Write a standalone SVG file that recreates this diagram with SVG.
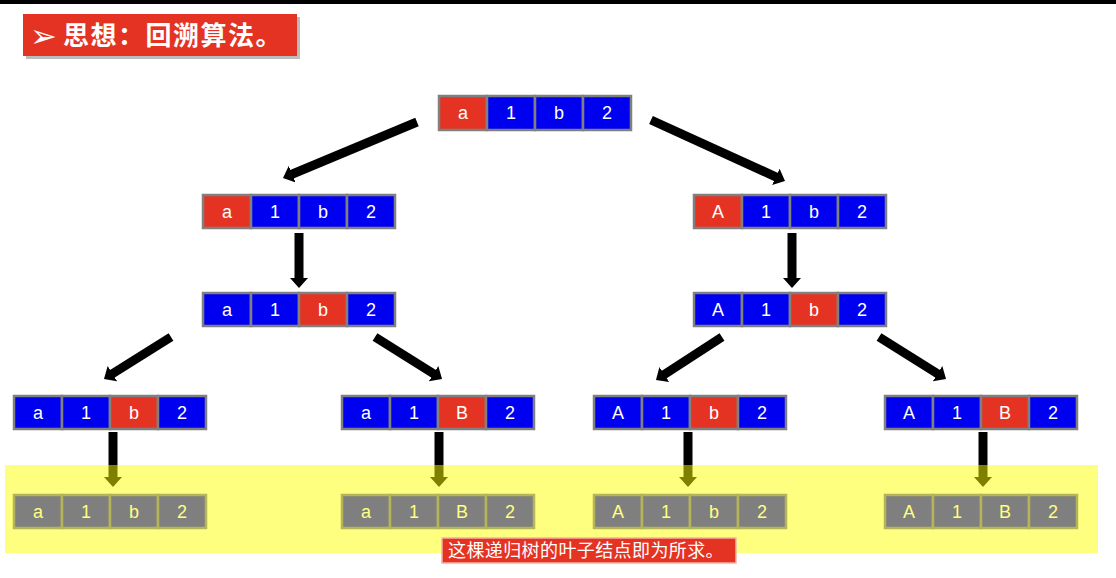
<svg xmlns="http://www.w3.org/2000/svg" width="1116" height="578" viewBox="0 0 1116 578">
<style>
.r{fill:#e53323;stroke:#808080;stroke-width:2.5}
.b{fill:#0000f0;stroke:#808080;stroke-width:2.5}
.g{fill:#7f7f7f;stroke:#b4b45a;stroke-width:2.5}
.t{font-family:"Liberation Sans",Arial,sans-serif;font-size:18px;fill:#ffffff;text-anchor:middle}
.lt{font-family:"Liberation Sans",Arial,sans-serif;font-size:18px;fill:#ffff80;text-anchor:middle}
.ar{stroke:#000;stroke-width:9;fill:none;marker-end:url(#ah)}
</style>
<defs>
<marker id="ah" viewBox="0 0 10 18" refX="1" refY="9" markerWidth="10" markerHeight="18" markerUnits="userSpaceOnUse" orient="auto">
<path d="M0,0 L10,9 L0,18 z" fill="#000"/>
</marker>
</defs>
<rect x="0" y="0" width="1116" height="4" fill="#000"/>
<g id="title">
<rect x="26" y="17" width="274" height="42" fill="#a0a0a0" opacity="0.7"/>
<rect x="23" y="14" width="274" height="42" fill="#e53323"/>
<text x="30" y="47" font-family="'DejaVu Sans',sans-serif" font-size="32" fill="#fff">➢</text>
<text x="63" y="45" font-family="'Noto Sans CJK SC',sans-serif" font-size="26" font-weight="bold" letter-spacing="1.5" fill="#fff">思想：回溯算法。</text>
</g>
<g id="connectors">
<line class="ar" x1="417" y1="122" x2="291.3" y2="174.5"/>
<line class="ar" x1="651" y1="120" x2="776.8" y2="177.3"/>
<line class="ar" x1="299" y1="233" x2="299" y2="279"/>
<line class="ar" x1="792" y1="233" x2="792" y2="279"/>
<line class="ar" x1="171" y1="337" x2="111.6" y2="374.2"/>
<line class="ar" x1="375" y1="337" x2="434.4" y2="374.2"/>
<line class="ar" x1="722" y1="337" x2="663.5" y2="375.1"/>
<line class="ar" x1="879" y1="337" x2="938.4" y2="374.2"/>
<line class="ar" x1="113" y1="432" x2="113" y2="478"/>
<line class="ar" x1="439" y1="432" x2="439" y2="478"/>
<line class="ar" x1="688" y1="432" x2="688" y2="478"/>
<line class="ar" x1="983" y1="432" x2="983" y2="478"/>
</g>
<rect id="band" x="5" y="465" width="1093" height="88" fill="#ffff00" opacity="0.5"/>
<g id="n0">
<rect class="r" x="439" y="96" width="48" height="34"/><rect class="b" x="487" y="96" width="48" height="34"/><rect class="b" x="535" y="96" width="48" height="34"/><rect class="b" x="583" y="96" width="48" height="34"/>
<text class="t" x="463" y="119">a</text><text class="t" x="511" y="119">1</text><text class="t" x="559" y="119">b</text><text class="t" x="607" y="119">2</text>
</g>
<g id="n1">
<rect class="r" x="203" y="195" width="48" height="33"/><rect class="b" x="251" y="195" width="48" height="33"/><rect class="b" x="299" y="195" width="48" height="33"/><rect class="b" x="347" y="195" width="48" height="33"/>
<text class="t" x="227" y="218">a</text><text class="t" x="275" y="218">1</text><text class="t" x="323" y="218">b</text><text class="t" x="371" y="218">2</text>
</g>
<g id="n2">
<rect class="r" x="694" y="195" width="48" height="33"/><rect class="b" x="742" y="195" width="48" height="33"/><rect class="b" x="790" y="195" width="48" height="33"/><rect class="b" x="838" y="195" width="48" height="33"/>
<text class="t" x="718" y="218">A</text><text class="t" x="766" y="218">1</text><text class="t" x="814" y="218">b</text><text class="t" x="862" y="218">2</text>
</g>
<g id="n3">
<rect class="b" x="203" y="293" width="48" height="33"/><rect class="b" x="251" y="293" width="48" height="33"/><rect class="r" x="299" y="293" width="48" height="33"/><rect class="b" x="347" y="293" width="48" height="33"/>
<text class="t" x="227" y="316">a</text><text class="t" x="275" y="316">1</text><text class="t" x="323" y="316">b</text><text class="t" x="371" y="316">2</text>
</g>
<g id="n4">
<rect class="b" x="694" y="293" width="48" height="33"/><rect class="b" x="742" y="293" width="48" height="33"/><rect class="r" x="790" y="293" width="48" height="33"/><rect class="b" x="838" y="293" width="48" height="33"/>
<text class="t" x="718" y="316">A</text><text class="t" x="766" y="316">1</text><text class="t" x="814" y="316">b</text><text class="t" x="862" y="316">2</text>
</g>
<g id="n5">
<rect class="b" x="14" y="396" width="48" height="33"/><rect class="b" x="62" y="396" width="48" height="33"/><rect class="r" x="110" y="396" width="48" height="33"/><rect class="b" x="158" y="396" width="48" height="33"/>
<text class="t" x="38" y="419">a</text><text class="t" x="86" y="419">1</text><text class="t" x="134" y="419">b</text><text class="t" x="182" y="419">2</text>
</g>
<g id="n6">
<rect class="b" x="342" y="396" width="48" height="33"/><rect class="b" x="390" y="396" width="48" height="33"/><rect class="r" x="438" y="396" width="48" height="33"/><rect class="b" x="486" y="396" width="48" height="33"/>
<text class="t" x="366" y="419">a</text><text class="t" x="414" y="419">1</text><text class="t" x="462" y="419">B</text><text class="t" x="510" y="419">2</text>
</g>
<g id="n7">
<rect class="b" x="594" y="396" width="48" height="33"/><rect class="b" x="642" y="396" width="48" height="33"/><rect class="r" x="690" y="396" width="48" height="33"/><rect class="b" x="738" y="396" width="48" height="33"/>
<text class="t" x="618" y="419">A</text><text class="t" x="666" y="419">1</text><text class="t" x="714" y="419">b</text><text class="t" x="762" y="419">2</text>
</g>
<g id="n8">
<rect class="b" x="885" y="396" width="48" height="33"/><rect class="b" x="933" y="396" width="48" height="33"/><rect class="r" x="981" y="396" width="48" height="33"/><rect class="b" x="1029" y="396" width="48" height="33"/>
<text class="t" x="909" y="419">A</text><text class="t" x="957" y="419">1</text><text class="t" x="1005" y="419">B</text><text class="t" x="1053" y="419">2</text>
</g>
<g id="l1">
<rect class="g" x="14" y="495" width="48" height="33"/><rect class="g" x="62" y="495" width="48" height="33"/><rect class="g" x="110" y="495" width="48" height="33"/><rect class="g" x="158" y="495" width="48" height="33"/>
<text class="lt" x="38" y="518">a</text><text class="lt" x="86" y="518">1</text><text class="lt" x="134" y="518">b</text><text class="lt" x="182" y="518">2</text>
</g>
<g id="l2">
<rect class="g" x="342" y="495" width="48" height="33"/><rect class="g" x="390" y="495" width="48" height="33"/><rect class="g" x="438" y="495" width="48" height="33"/><rect class="g" x="486" y="495" width="48" height="33"/>
<text class="lt" x="366" y="518">a</text><text class="lt" x="414" y="518">1</text><text class="lt" x="462" y="518">B</text><text class="lt" x="510" y="518">2</text>
</g>
<g id="l3">
<rect class="g" x="594" y="495" width="48" height="33"/><rect class="g" x="642" y="495" width="48" height="33"/><rect class="g" x="690" y="495" width="48" height="33"/><rect class="g" x="738" y="495" width="48" height="33"/>
<text class="lt" x="618" y="518">A</text><text class="lt" x="666" y="518">1</text><text class="lt" x="714" y="518">b</text><text class="lt" x="762" y="518">2</text>
</g>
<g id="l4">
<rect class="g" x="885" y="495" width="48" height="33"/><rect class="g" x="933" y="495" width="48" height="33"/><rect class="g" x="981" y="495" width="48" height="33"/><rect class="g" x="1029" y="495" width="48" height="33"/>
<text class="lt" x="909" y="518">A</text><text class="lt" x="957" y="518">1</text><text class="lt" x="1005" y="518">B</text><text class="lt" x="1053" y="518">2</text>
</g>
<g id="note">
<rect x="442" y="538" width="294" height="25" fill="#e53323" stroke="#f6b0a8" stroke-width="1.5"/>
<text x="448" y="557" font-family="'Noto Sans CJK SC',sans-serif" font-size="18" letter-spacing="0.4" fill="#fff">这棵递归树的叶子结点即为所求。</text>
</g>
</svg>
